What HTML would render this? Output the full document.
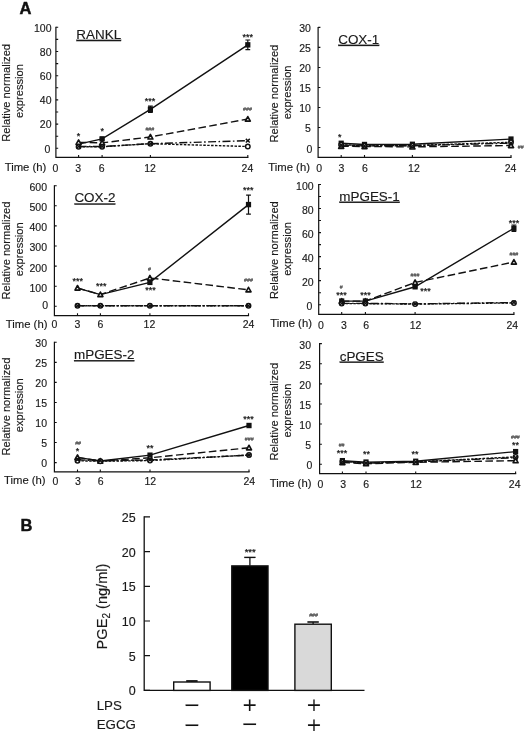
<!DOCTYPE html>
<html lang="en">
<head>
<meta charset="utf-8">
<title>Figure</title>
<style>
html,body{margin:0;padding:0;background:#fff;}
body{width:524px;height:734px;overflow:hidden;}
svg{display:block;will-change:transform;}
svg text{font-family:"Liberation Sans", sans-serif;fill:#1a1a1a;stroke:#1a1a1a;stroke-width:0.15px;}
svg text.h{fill:#4a4a4a;stroke:#4a4a4a;stroke-width:0.15px;}
svg text.a{stroke-width:0.25px;}
svg text.s{fill:#111;stroke:#fff;stroke-width:0.16px;}
svg text.b{fill:#111;stroke:#111;stroke-width:0.45px;}
</style>
</head>
<body>
<svg width="524" height="734" viewBox="0 0 524 734">
<rect width="524" height="734" fill="#fff"/>
<g><path d="M55.9 26.8V157.4H248.4" fill="none" stroke="#111" stroke-width="1.2"/>
<path d="M55.9 148.3h2.3M55.9 136.2h2.3M55.9 124.1h2.3M55.9 112h2.3M55.9 99.9h2.3M55.9 87.8h2.3M55.9 75.7h2.3M55.9 63.6h2.3M55.9 51.5h2.3M55.9 39.4h2.3M55.9 27.3h2.3M78.6 157.4v-2.3M102.1 157.4v-2.3M150.4 157.4v-2.3M247.8 157.4v-2.3" fill="none" stroke="#111" stroke-width="1.1"/>
<text x="50.3" y="152.55" text-anchor="end" font-size="10.5">0</text>
<text x="51.5" y="128.35" text-anchor="end" font-size="10.5">20</text>
<text x="51.5" y="104.15" text-anchor="end" font-size="10.5">40</text>
<text x="51.5" y="79.95" text-anchor="end" font-size="10.5">60</text>
<text x="51.5" y="55.75" text-anchor="end" font-size="10.5">80</text>
<text x="51.5" y="31.55" text-anchor="end" font-size="10.5">100</text>
<text x="55.5" y="172.1" text-anchor="middle" font-size="10.5">0</text>
<text x="78.2" y="172.1" text-anchor="middle" font-size="10.5">3</text>
<text x="101.7" y="172.1" text-anchor="middle" font-size="10.5">6</text>
<text x="150" y="172.1" text-anchor="middle" font-size="10.5">12</text>
<text x="247.4" y="172.1" text-anchor="middle" font-size="10.5">24</text>
<text x="4.7" y="170.9" font-size="11.3">Time (h)</text>
<text transform="translate(10.1 92.85) rotate(-90)" text-anchor="middle" font-size="11.15">Relative normalized</text>
<text transform="translate(23.3 91) rotate(-90)" text-anchor="middle" font-size="11.15">expression</text>
<text x="76.3" y="38.8" font-size="13.45" text-decoration="underline">RANKL</text>
<path d="M78.6 144.06L102.1 138.86L150.4 109.34L247.8 44.84" fill="none" stroke="#111" stroke-width="1.4" />
<path d="M247.8 40V49.69M245.4 40h4.8M245.4 49.69h4.8" fill="none" stroke="#111" stroke-width="1.2"/>
<path d="M150.4 106.19V112.48M148 106.19h4.8M148 112.48h4.8" fill="none" stroke="#111" stroke-width="1.2"/>
<path d="M102.1 137.89V139.83M99.7 137.89h4.8M99.7 139.83h4.8" fill="none" stroke="#111" stroke-width="1.2"/>
<rect x="99.5" y="136.16" width="5.2" height="5.4" fill="#111"/>
<rect x="147.8" y="106.64" width="5.2" height="5.4" fill="#111"/>
<rect x="245.2" y="42.14" width="5.2" height="5.4" fill="#111"/>
<path d="M78.6 142.37L102.1 142.86L150.4 136.93L247.8 119.02" fill="none" stroke="#111" stroke-width="1.4" stroke-dasharray="7.6 3.4"/>
<path d="M78.6 139.87L81.15 144.47H76.05Z" fill="#e8e8e8" stroke="#111" stroke-width="1.6" stroke-linejoin="round"/>
<path d="M102.1 140.36L104.65 144.96H99.55Z" fill="#e8e8e8" stroke="#111" stroke-width="1.6" stroke-linejoin="round"/>
<path d="M150.4 134.43L152.95 139.03H147.85Z" fill="#e8e8e8" stroke="#111" stroke-width="1.6" stroke-linejoin="round"/>
<path d="M247.8 116.52L250.35 121.12H245.25Z" fill="#e8e8e8" stroke="#111" stroke-width="1.6" stroke-linejoin="round"/>
<path d="M78.6 146.73L102.1 146.73L150.4 143.7L247.8 146.49" fill="none" stroke="#111" stroke-width="1.4" stroke-dasharray="2.5 1.4"/>
<circle cx="78.6" cy="146.73" r="2.25" fill="#fff" stroke="#111" stroke-width="1.45"/>
<circle cx="102.1" cy="146.73" r="2.25" fill="#fff" stroke="#111" stroke-width="1.45"/>
<circle cx="150.4" cy="143.7" r="2.25" fill="#fff" stroke="#111" stroke-width="1.45"/>
<circle cx="247.8" cy="146.49" r="2.25" fill="#fff" stroke="#111" stroke-width="1.45"/>
<path d="M78.6 146.49L102.1 146.49L150.4 143.7L247.8 140.68" fill="none" stroke="#111" stroke-width="1.4" stroke-dasharray="8 2.4 1.6 2.4"/>
<path d="M76.6 144.69l4 3.6m0 -3.6l-4 3.6" fill="none" stroke="#111" stroke-width="1.4"/>
<path d="M100.1 144.69l4 3.6m0 -3.6l-4 3.6" fill="none" stroke="#111" stroke-width="1.4"/>
<path d="M148.4 141.9l4 3.6m0 -3.6l-4 3.6" fill="none" stroke="#111" stroke-width="1.4"/>
<path d="M245.8 138.88l4 3.6m0 -3.6l-4 3.6" fill="none" stroke="#111" stroke-width="1.4"/>
<text class="a" x="78.4" y="138.8" text-anchor="middle" font-size="9">*</text>
<text class="a" x="102.3" y="134.3" text-anchor="middle" font-size="9">*</text>
<text class="a" x="150" y="103.7" text-anchor="middle" font-size="9">***</text>
<text class="a" x="247.8" y="39.8" text-anchor="middle" font-size="9">***</text>
<text class="h" x="149.8" y="131.05" text-anchor="middle" font-size="5.3">###</text>
<text class="h" x="247.5" y="111.25" text-anchor="middle" font-size="5.3">###</text></g>
<g><path d="M54.4 185.2V315.6H249.1" fill="none" stroke="#111" stroke-width="1.2"/>
<path d="M54.4 306.3h2.3M54.4 286.2h2.3M54.4 266.1h2.3M54.4 246h2.3M54.4 225.9h2.3M54.4 205.8h2.3M54.4 185.7h2.3M77.5 315.6v-2.3M100.4 315.6v-2.3M149.9 315.6v-2.3M248.5 315.6v-2.3" fill="none" stroke="#111" stroke-width="1.1"/>
<text x="48.1" y="309.25" text-anchor="end" font-size="10.5">0</text>
<text x="47" y="291.65" text-anchor="end" font-size="10.5">100</text>
<text x="47" y="271.55" text-anchor="end" font-size="10.5">200</text>
<text x="47" y="251.45" text-anchor="end" font-size="10.5">300</text>
<text x="47" y="231.35" text-anchor="end" font-size="10.5">400</text>
<text x="47" y="211.25" text-anchor="end" font-size="10.5">500</text>
<text x="47" y="191.15" text-anchor="end" font-size="10.5">600</text>
<text x="54.4" y="328.1" text-anchor="middle" font-size="10.5">0</text>
<text x="77.5" y="328.1" text-anchor="middle" font-size="10.5">3</text>
<text x="100.4" y="328.1" text-anchor="middle" font-size="10.5">6</text>
<text x="149.4" y="328.1" text-anchor="middle" font-size="10.5">12</text>
<text x="248.5" y="328.1" text-anchor="middle" font-size="10.5">24</text>
<text x="5.8" y="327.7" font-size="11.3">Time (h)</text>
<text transform="translate(9.8 250.5) rotate(-90)" text-anchor="middle" font-size="11.15">Relative normalized</text>
<text transform="translate(22.9 249.3) rotate(-90)" text-anchor="middle" font-size="11.15">expression</text>
<text x="74.4" y="202.4" font-size="13.45" text-decoration="underline">COX-2</text>
<path d="M77.5 288.11L100.4 294.64L149.9 282.38L248.5 204.59" fill="none" stroke="#111" stroke-width="1.4" />
<path d="M248.5 195.15V214.04M246.1 195.15h4.8M246.1 214.04h4.8" fill="none" stroke="#111" stroke-width="1.2"/>
<rect x="147.3" y="279.68" width="5.2" height="5.4" fill="#111"/>
<rect x="245.9" y="201.89" width="5.2" height="5.4" fill="#111"/>
<path d="M77.5 288.01L100.4 294.54L149.9 277.96L248.5 289.82" fill="none" stroke="#111" stroke-width="1.4" stroke-dasharray="7.6 3.4"/>
<path d="M77.5 285.51L80.05 290.11H74.95Z" fill="#e8e8e8" stroke="#111" stroke-width="1.6" stroke-linejoin="round"/>
<path d="M100.4 292.04L102.95 296.64H97.85Z" fill="#e8e8e8" stroke="#111" stroke-width="1.6" stroke-linejoin="round"/>
<path d="M149.9 275.46L152.45 280.06H147.35Z" fill="#e8e8e8" stroke="#111" stroke-width="1.6" stroke-linejoin="round"/>
<path d="M248.5 287.32L251.05 291.92H245.95Z" fill="#e8e8e8" stroke="#111" stroke-width="1.6" stroke-linejoin="round"/>
<path d="M77.5 305.7L100.4 305.7L149.9 305.7L248.5 305.7" fill="none" stroke="#111" stroke-width="1.4" stroke-dasharray="2.5 1.4"/>
<circle cx="77.5" cy="305.7" r="2.25" fill="#fff" stroke="#111" stroke-width="1.45"/>
<circle cx="100.4" cy="305.7" r="2.25" fill="#fff" stroke="#111" stroke-width="1.45"/>
<circle cx="149.9" cy="305.7" r="2.25" fill="#fff" stroke="#111" stroke-width="1.45"/>
<circle cx="248.5" cy="305.7" r="2.25" fill="#fff" stroke="#111" stroke-width="1.45"/>
<path d="M77.5 305.7L100.4 305.7L149.9 305.7L248.5 305.7" fill="none" stroke="#111" stroke-width="1.4" stroke-dasharray="8 2.4 1.6 2.4"/>
<path d="M75.5 303.9l4 3.6m0 -3.6l-4 3.6" fill="none" stroke="#111" stroke-width="1.4"/>
<path d="M98.4 303.9l4 3.6m0 -3.6l-4 3.6" fill="none" stroke="#111" stroke-width="1.4"/>
<path d="M147.9 303.9l4 3.6m0 -3.6l-4 3.6" fill="none" stroke="#111" stroke-width="1.4"/>
<path d="M246.5 303.9l4 3.6m0 -3.6l-4 3.6" fill="none" stroke="#111" stroke-width="1.4"/>
<text class="a" x="77.8" y="283.9" text-anchor="middle" font-size="9">***</text>
<text class="a" x="101.2" y="288.9" text-anchor="middle" font-size="9">***</text>
<text class="a" x="150.4" y="293.2" text-anchor="middle" font-size="9">***</text>
<text class="a" x="248.2" y="193.3" text-anchor="middle" font-size="9">***</text>
<text class="h" x="149.6" y="271.25" text-anchor="middle" font-size="5.3">#</text>
<text class="h" x="248.5" y="282.05" text-anchor="middle" font-size="5.3">###</text></g>
<g><path d="M54.4 341.8V471.9H249.6" fill="none" stroke="#111" stroke-width="1.2"/>
<path d="M54.4 462.6h2.3M54.4 442.55h2.3M54.4 422.5h2.3M54.4 402.45h2.3M54.4 382.4h2.3M54.4 362.35h2.3M54.4 342.3h2.3M77.5 471.9v-2.3M100.3 471.9v-2.3M150 471.9v-2.3M249 471.9v-2.3" fill="none" stroke="#111" stroke-width="1.1"/>
<text x="47" y="466.55" text-anchor="end" font-size="10.5">0</text>
<text x="47" y="447.3" text-anchor="end" font-size="10.5">5</text>
<text x="47" y="427.25" text-anchor="end" font-size="10.5">10</text>
<text x="47" y="407.2" text-anchor="end" font-size="10.5">15</text>
<text x="47" y="387.15" text-anchor="end" font-size="10.5">20</text>
<text x="47" y="367.1" text-anchor="end" font-size="10.5">25</text>
<text x="47" y="347.05" text-anchor="end" font-size="10.5">30</text>
<text x="55.3" y="484.6" text-anchor="middle" font-size="10.5">0</text>
<text x="77.8" y="484.6" text-anchor="middle" font-size="10.5">3</text>
<text x="100.6" y="484.6" text-anchor="middle" font-size="10.5">6</text>
<text x="150.3" y="484.6" text-anchor="middle" font-size="10.5">12</text>
<text x="249.3" y="484.6" text-anchor="middle" font-size="10.5">24</text>
<text x="4" y="484" font-size="11.3">Time (h)</text>
<text transform="translate(9.8 406.5) rotate(-90)" text-anchor="middle" font-size="11.15">Relative normalized</text>
<text transform="translate(22.9 405.3) rotate(-90)" text-anchor="middle" font-size="11.15">expression</text>
<text x="74" y="359.1" font-size="13.45" text-decoration="underline">mPGES-2</text>
<path d="M77.5 457.39L100.3 461L150 455.18L249 425.51" fill="none" stroke="#111" stroke-width="1.4" />
<rect x="147.4" y="452.48" width="5.2" height="5.4" fill="#111"/>
<rect x="246.4" y="422.81" width="5.2" height="5.4" fill="#111"/>
<path d="M77.5 457.39L100.3 461L150 457.79L249 447.76" fill="none" stroke="#111" stroke-width="1.4" stroke-dasharray="7.6 3.4"/>
<path d="M77.5 454.89L80.05 459.49H74.95Z" fill="#e8e8e8" stroke="#111" stroke-width="1.6" stroke-linejoin="round"/>
<path d="M100.3 458.5L102.85 463.1H97.75Z" fill="#e8e8e8" stroke="#111" stroke-width="1.6" stroke-linejoin="round"/>
<path d="M150 455.29L152.55 459.89H147.45Z" fill="#e8e8e8" stroke="#111" stroke-width="1.6" stroke-linejoin="round"/>
<path d="M249 445.26L251.55 449.86H246.45Z" fill="#e8e8e8" stroke="#111" stroke-width="1.6" stroke-linejoin="round"/>
<path d="M77.5 460.8L100.3 461.2L150 460.6L249 454.98" fill="none" stroke="#111" stroke-width="1.4" stroke-dasharray="2.5 1.4"/>
<circle cx="77.5" cy="460.8" r="2.25" fill="#fff" stroke="#111" stroke-width="1.45"/>
<circle cx="100.3" cy="461.2" r="2.25" fill="#fff" stroke="#111" stroke-width="1.45"/>
<circle cx="150" cy="460.6" r="2.25" fill="#fff" stroke="#111" stroke-width="1.45"/>
<circle cx="249" cy="454.98" r="2.25" fill="#fff" stroke="#111" stroke-width="1.45"/>
<path d="M77.5 459.79L100.3 460.8L150 459.99L249 455.18" fill="none" stroke="#111" stroke-width="1.4" stroke-dasharray="8 2.4 1.6 2.4"/>
<path d="M75.5 457.99l4 3.6m0 -3.6l-4 3.6" fill="none" stroke="#111" stroke-width="1.4"/>
<path d="M98.3 459l4 3.6m0 -3.6l-4 3.6" fill="none" stroke="#111" stroke-width="1.4"/>
<path d="M148 458.19l4 3.6m0 -3.6l-4 3.6" fill="none" stroke="#111" stroke-width="1.4"/>
<path d="M247 453.38l4 3.6m0 -3.6l-4 3.6" fill="none" stroke="#111" stroke-width="1.4"/>
<text class="a" x="77.5" y="454" text-anchor="middle" font-size="9">*</text>
<text class="a" x="150" y="450.9" text-anchor="middle" font-size="9">**</text>
<text class="a" x="248.6" y="421.8" text-anchor="middle" font-size="9">***</text>
<text class="h" x="78.1" y="445.25" text-anchor="middle" font-size="5.3">##</text>
<text class="h" x="249.2" y="440.75" text-anchor="middle" font-size="5.3">###</text></g>
<g><path d="M318.1 26.9V157.3H511.6" fill="none" stroke="#111" stroke-width="1.2"/>
<path d="M318.1 147.5h2.3M318.1 127.48h2.3M318.1 107.47h2.3M318.1 87.45h2.3M318.1 67.43h2.3M318.1 47.42h2.3M318.1 27.4h2.3M341.2 157.3v-2.3M364.5 157.3v-2.3M412.4 157.3v-2.3M511 157.3v-2.3" fill="none" stroke="#111" stroke-width="1.1"/>
<text x="312.3" y="152.75" text-anchor="end" font-size="10.5">0</text>
<text x="310.9" y="132.43" text-anchor="end" font-size="10.5">5</text>
<text x="310.9" y="112.42" text-anchor="end" font-size="10.5">10</text>
<text x="310.9" y="92.4" text-anchor="end" font-size="10.5">15</text>
<text x="310.9" y="72.38" text-anchor="end" font-size="10.5">20</text>
<text x="310.9" y="52.37" text-anchor="end" font-size="10.5">25</text>
<text x="310.9" y="32.35" text-anchor="end" font-size="10.5">30</text>
<text x="319.1" y="171.6" text-anchor="middle" font-size="10.5">0</text>
<text x="341.5" y="171.6" text-anchor="middle" font-size="10.5">3</text>
<text x="364.8" y="171.6" text-anchor="middle" font-size="10.5">6</text>
<text x="413.9" y="171.6" text-anchor="middle" font-size="10.5">12</text>
<text x="510.6" y="171.6" text-anchor="middle" font-size="10.5">24</text>
<text x="268.3" y="170.6" font-size="11.3">Time (h)</text>
<text transform="translate(278 93.6) rotate(-90)" text-anchor="middle" font-size="11.15">Relative normalized</text>
<text transform="translate(291.1 92.4) rotate(-90)" text-anchor="middle" font-size="11.15">expression</text>
<text x="338.2" y="43.7" font-size="13.45" text-decoration="underline">COX-1</text>
<path d="M341.2 143.3L364.5 144.5L412.4 144.3L511 139.09" fill="none" stroke="#111" stroke-width="1.4" />
<rect x="338.6" y="140.6" width="5.2" height="5.4" fill="#111"/>
<rect x="361.9" y="141.8" width="5.2" height="5.4" fill="#111"/>
<rect x="409.8" y="141.6" width="5.2" height="5.4" fill="#111"/>
<rect x="508.4" y="136.39" width="5.2" height="5.4" fill="#111"/>
<path d="M341.2 146.3L364.5 146.5L412.4 146.9L511 145.5" fill="none" stroke="#111" stroke-width="1.4" stroke-dasharray="7.6 3.4"/>
<path d="M341.2 143.8L343.75 148.4H338.65Z" fill="#e8e8e8" stroke="#111" stroke-width="1.6" stroke-linejoin="round"/>
<path d="M364.5 144L367.05 148.6H361.95Z" fill="#e8e8e8" stroke="#111" stroke-width="1.6" stroke-linejoin="round"/>
<path d="M412.4 144.4L414.95 149H409.85Z" fill="#e8e8e8" stroke="#111" stroke-width="1.6" stroke-linejoin="round"/>
<path d="M511 143L513.55 147.6H508.45Z" fill="#e8e8e8" stroke="#111" stroke-width="1.6" stroke-linejoin="round"/>
<path d="M341.2 144.7L364.5 145.7L412.4 145.5L511 142.3" fill="none" stroke="#111" stroke-width="1.4" stroke-dasharray="2.5 1.4"/>
<circle cx="341.2" cy="144.7" r="2.25" fill="#fff" stroke="#111" stroke-width="1.45"/>
<circle cx="364.5" cy="145.7" r="2.25" fill="#fff" stroke="#111" stroke-width="1.45"/>
<circle cx="412.4" cy="145.5" r="2.25" fill="#fff" stroke="#111" stroke-width="1.45"/>
<circle cx="511" cy="142.3" r="2.25" fill="#fff" stroke="#111" stroke-width="1.45"/>
<path d="M341.2 145.1L364.5 145.9L412.4 145.7L511 143.1" fill="none" stroke="#111" stroke-width="1.4" stroke-dasharray="8 2.4 1.6 2.4"/>
<path d="M339.2 143.3l4 3.6m0 -3.6l-4 3.6" fill="none" stroke="#111" stroke-width="1.4"/>
<path d="M362.5 144.1l4 3.6m0 -3.6l-4 3.6" fill="none" stroke="#111" stroke-width="1.4"/>
<path d="M410.4 143.9l4 3.6m0 -3.6l-4 3.6" fill="none" stroke="#111" stroke-width="1.4"/>
<path d="M509 141.3l4 3.6m0 -3.6l-4 3.6" fill="none" stroke="#111" stroke-width="1.4"/>
<text class="a" x="339.8" y="140.3" text-anchor="middle" font-size="9">*</text>
<text class="h" x="517.8" y="148.65" text-anchor="start" font-size="5.3">##</text></g>
<g><path d="M318.7 184V314.3H514.5" fill="none" stroke="#111" stroke-width="1.2"/>
<path d="M318.7 304.7h2.3M318.7 292.68h2.3M318.7 280.66h2.3M318.7 268.64h2.3M318.7 256.62h2.3M318.7 244.6h2.3M318.7 232.58h2.3M318.7 220.56h2.3M318.7 208.54h2.3M318.7 196.52h2.3M318.7 184.5h2.3M341.7 314.3v-2.3M365.4 314.3v-2.3M415.1 314.3v-2.3M513.9 314.3v-2.3" fill="none" stroke="#111" stroke-width="1.1"/>
<text x="312.4" y="310.25" text-anchor="end" font-size="10.5">0</text>
<text x="313.6" y="285.91" text-anchor="end" font-size="10.5">20</text>
<text x="313.6" y="261.87" text-anchor="end" font-size="10.5">40</text>
<text x="313.6" y="237.83" text-anchor="end" font-size="10.5">60</text>
<text x="313.6" y="213.79" text-anchor="end" font-size="10.5">80</text>
<text x="313.6" y="189.75" text-anchor="end" font-size="10.5">100</text>
<text x="320.8" y="328.5" text-anchor="middle" font-size="10.5">0</text>
<text x="343.8" y="328.5" text-anchor="middle" font-size="10.5">3</text>
<text x="366.1" y="328.5" text-anchor="middle" font-size="10.5">6</text>
<text x="415.5" y="328.5" text-anchor="middle" font-size="10.5">12</text>
<text x="512.3" y="328.5" text-anchor="middle" font-size="10.5">24</text>
<text x="270.3" y="327.3" font-size="11.3">Time (h)</text>
<text transform="translate(277.9 250.1) rotate(-90)" text-anchor="middle" font-size="11.15">Relative normalized</text>
<text transform="translate(291.1 248.9) rotate(-90)" text-anchor="middle" font-size="11.15">expression</text>
<text x="339.3" y="200.6" font-size="13.45" text-decoration="underline">mPGES-1</text>
<path d="M341.7 301.09L365.4 301.09L415.1 286.79L513.9 228.25" fill="none" stroke="#111" stroke-width="1.4" />
<path d="M513.9 225.01V231.5M511.5 225.01h4.8M511.5 231.5h4.8" fill="none" stroke="#111" stroke-width="1.2"/>
<path d="M415.1 285.83V287.75M412.7 285.83h4.8M412.7 287.75h4.8" fill="none" stroke="#111" stroke-width="1.2"/>
<rect x="339.1" y="298.39" width="5.2" height="5.4" fill="#111"/>
<rect x="362.8" y="298.39" width="5.2" height="5.4" fill="#111"/>
<rect x="412.5" y="284.09" width="5.2" height="5.4" fill="#111"/>
<rect x="511.3" y="225.55" width="5.2" height="5.4" fill="#111"/>
<path d="M341.7 301.09L365.4 301.09L415.1 282.46L513.9 262.03" fill="none" stroke="#111" stroke-width="1.4" stroke-dasharray="7.6 3.4"/>
<path d="M341.7 298.59L344.25 303.19H339.15Z" fill="#e8e8e8" stroke="#111" stroke-width="1.6" stroke-linejoin="round"/>
<path d="M365.4 298.59L367.95 303.19H362.85Z" fill="#e8e8e8" stroke="#111" stroke-width="1.6" stroke-linejoin="round"/>
<path d="M415.1 279.96L417.65 284.56H412.55Z" fill="#e8e8e8" stroke="#111" stroke-width="1.6" stroke-linejoin="round"/>
<path d="M513.9 259.53L516.45 264.13H511.35Z" fill="#e8e8e8" stroke="#111" stroke-width="1.6" stroke-linejoin="round"/>
<path d="M341.7 303.62L365.4 303.62L415.1 304.1L513.9 302.9" fill="none" stroke="#111" stroke-width="1.4" stroke-dasharray="2.5 1.4"/>
<circle cx="341.7" cy="303.62" r="2.25" fill="#fff" stroke="#111" stroke-width="1.45"/>
<circle cx="365.4" cy="303.62" r="2.25" fill="#fff" stroke="#111" stroke-width="1.45"/>
<circle cx="415.1" cy="304.1" r="2.25" fill="#fff" stroke="#111" stroke-width="1.45"/>
<circle cx="513.9" cy="302.9" r="2.25" fill="#fff" stroke="#111" stroke-width="1.45"/>
<path d="M341.7 303.38L365.4 303.38L415.1 303.86L513.9 302.54" fill="none" stroke="#111" stroke-width="1.4" stroke-dasharray="8 2.4 1.6 2.4"/>
<path d="M339.7 301.58l4 3.6m0 -3.6l-4 3.6" fill="none" stroke="#111" stroke-width="1.4"/>
<path d="M363.4 301.58l4 3.6m0 -3.6l-4 3.6" fill="none" stroke="#111" stroke-width="1.4"/>
<path d="M413.1 302.06l4 3.6m0 -3.6l-4 3.6" fill="none" stroke="#111" stroke-width="1.4"/>
<path d="M511.9 300.74l4 3.6m0 -3.6l-4 3.6" fill="none" stroke="#111" stroke-width="1.4"/>
<text class="a" x="341.6" y="297.7" text-anchor="middle" font-size="9">***</text>
<text class="a" x="365.6" y="297.7" text-anchor="middle" font-size="9">***</text>
<text class="a" x="425.5" y="294.3" text-anchor="middle" font-size="9">***</text>
<text class="a" x="513.9" y="225.5" text-anchor="middle" font-size="9">***</text>
<text class="h" x="341.2" y="288.75" text-anchor="middle" font-size="5.3">#</text>
<text class="h" x="415" y="276.55" text-anchor="middle" font-size="5.3">###</text>
<text class="h" x="513.9" y="255.85" text-anchor="middle" font-size="5.3">###</text></g>
<g><path d="M319.6 343.1V473.7H516.2" fill="none" stroke="#111" stroke-width="1.2"/>
<path d="M319.6 464.3h2.3M319.6 444.18h2.3M319.6 424.07h2.3M319.6 403.95h2.3M319.6 383.83h2.3M319.6 363.72h2.3M319.6 343.6h2.3M342.4 473.7v-2.3M366 473.7v-2.3M415.7 473.7v-2.3M515.6 473.7v-2.3" fill="none" stroke="#111" stroke-width="1.1"/>
<text x="312.4" y="468.85" text-anchor="end" font-size="10.5">0</text>
<text x="311" y="449.13" text-anchor="end" font-size="10.5">5</text>
<text x="311" y="429.02" text-anchor="end" font-size="10.5">10</text>
<text x="311" y="408.9" text-anchor="end" font-size="10.5">15</text>
<text x="311" y="388.78" text-anchor="end" font-size="10.5">20</text>
<text x="311" y="368.67" text-anchor="end" font-size="10.5">25</text>
<text x="311" y="348.55" text-anchor="end" font-size="10.5">30</text>
<text x="320.4" y="487.9" text-anchor="middle" font-size="10.5">0</text>
<text x="343.2" y="487.9" text-anchor="middle" font-size="10.5">3</text>
<text x="366.1" y="487.9" text-anchor="middle" font-size="10.5">6</text>
<text x="416" y="487.9" text-anchor="middle" font-size="10.5">12</text>
<text x="514.7" y="487.9" text-anchor="middle" font-size="10.5">24</text>
<text x="269.8" y="486.8" font-size="11.3">Time (h)</text>
<text transform="translate(277.9 411.7) rotate(-90)" text-anchor="middle" font-size="11.15">Relative normalized</text>
<text transform="translate(291.1 410.5) rotate(-90)" text-anchor="middle" font-size="11.15">expression</text>
<text x="339.7" y="360.5" font-size="13.45" text-decoration="underline">cPGES</text>
<path d="M342.4 460.68L366 462.09L415.7 461.28L515.6 451.63" fill="none" stroke="#111" stroke-width="1.4" />
<rect x="339.8" y="457.98" width="5.2" height="5.4" fill="#111"/>
<rect x="363.4" y="459.39" width="5.2" height="5.4" fill="#111"/>
<rect x="413.1" y="458.58" width="5.2" height="5.4" fill="#111"/>
<rect x="513" y="448.93" width="5.2" height="5.4" fill="#111"/>
<path d="M342.4 462.49L366 463.7L415.7 462.29L515.6 460.68" fill="none" stroke="#111" stroke-width="1.4" stroke-dasharray="7.6 3.4"/>
<path d="M342.4 459.99L344.95 464.59H339.85Z" fill="#e8e8e8" stroke="#111" stroke-width="1.6" stroke-linejoin="round"/>
<path d="M366 461.2L368.55 465.8H363.45Z" fill="#e8e8e8" stroke="#111" stroke-width="1.6" stroke-linejoin="round"/>
<path d="M415.7 459.79L418.25 464.39H413.15Z" fill="#e8e8e8" stroke="#111" stroke-width="1.6" stroke-linejoin="round"/>
<path d="M515.6 458.18L518.15 462.78H513.05Z" fill="#e8e8e8" stroke="#111" stroke-width="1.6" stroke-linejoin="round"/>
<path d="M342.4 461.48L366 462.89L415.7 461.89L515.6 456.86" fill="none" stroke="#111" stroke-width="1.4" stroke-dasharray="2.5 1.4"/>
<circle cx="342.4" cy="461.48" r="2.25" fill="#fff" stroke="#111" stroke-width="1.45"/>
<circle cx="366" cy="462.89" r="2.25" fill="#fff" stroke="#111" stroke-width="1.45"/>
<circle cx="415.7" cy="461.89" r="2.25" fill="#fff" stroke="#111" stroke-width="1.45"/>
<circle cx="515.6" cy="456.86" r="2.25" fill="#fff" stroke="#111" stroke-width="1.45"/>
<path d="M342.4 461.68L366 463.09L415.7 461.89L515.6 457.66" fill="none" stroke="#111" stroke-width="1.4" stroke-dasharray="8 2.4 1.6 2.4"/>
<path d="M340.4 459.88l4 3.6m0 -3.6l-4 3.6" fill="none" stroke="#111" stroke-width="1.4"/>
<path d="M364 461.29l4 3.6m0 -3.6l-4 3.6" fill="none" stroke="#111" stroke-width="1.4"/>
<path d="M413.7 460.09l4 3.6m0 -3.6l-4 3.6" fill="none" stroke="#111" stroke-width="1.4"/>
<path d="M513.6 455.86l4 3.6m0 -3.6l-4 3.6" fill="none" stroke="#111" stroke-width="1.4"/>
<text class="a" x="342.1" y="455.8" text-anchor="middle" font-size="9">***</text>
<text class="a" x="366.4" y="456.9" text-anchor="middle" font-size="9">**</text>
<text class="a" x="415" y="456.7" text-anchor="middle" font-size="9">**</text>
<text class="a" x="515.4" y="447.7" text-anchor="middle" font-size="9">**</text>
<text class="h" x="341.6" y="447.25" text-anchor="middle" font-size="5.3">##</text>
<text class="h" x="515.4" y="439.05" text-anchor="middle" font-size="5.3">###</text></g>
<text class="b" x="19.4" y="14.1" font-size="16.5" font-weight="bold">A</text>
<text class="b" x="20.5" y="530.8" font-size="16.5" font-weight="bold">B</text>
<g><path d="M144.2 516.3V690.4H364.5" fill="none" stroke="#111" stroke-width="1.3"/>
<path d="M144.2 690.4h5.8M144.2 655.7h5.8M144.2 621h5.8M144.2 586.3h5.8M144.2 551.6h5.8M144.2 516.9h5.8" fill="none" stroke="#111" stroke-width="1.2"/>
<text x="135.7" y="695.3" text-anchor="end" font-size="12.5">0</text>
<text x="135.7" y="660.6" text-anchor="end" font-size="12.5">5</text>
<text x="135.7" y="625.9" text-anchor="end" font-size="12.5">10</text>
<text x="135.7" y="591.2" text-anchor="end" font-size="12.5">15</text>
<text x="135.7" y="556.5" text-anchor="end" font-size="12.5">20</text>
<text x="135.7" y="521.8" text-anchor="end" font-size="12.5">25</text>
<rect x="173.7" y="682" width="36.4" height="8.4" fill="#fff" stroke="#111" stroke-width="1.4"/>
<path d="M191.9 681.8V681" fill="none" stroke="#111" stroke-width="1.3"/>
<path d="M186.2 681h11.4" fill="none" stroke="#111" stroke-width="1.8"/>
<rect x="231.8" y="565.9" width="36.2" height="124.5" fill="#000" stroke="#111" stroke-width="1.4"/>
<path d="M249.9 565.7V557.4" fill="none" stroke="#111" stroke-width="1.3"/>
<path d="M244.2 557.4h11.4" fill="none" stroke="#111" stroke-width="1.4"/>
<rect x="294.9" y="624.2" width="36.4" height="66.2" fill="#d9d9d9" stroke="#111" stroke-width="1.4"/>
<path d="M313.1 624V622" fill="none" stroke="#111" stroke-width="1.3"/>
<path d="M307.4 622h11.4" fill="none" stroke="#111" stroke-width="1.6"/>
<text class="a" x="250.2" y="554.6" text-anchor="middle" font-size="9.5">***</text>
<text class="h" x="313.6" y="617.4" text-anchor="middle" font-size="5.3">###</text>
<text transform="translate(107.2 606.5) rotate(-90)" text-anchor="middle" font-size="14.6">PGE<tspan font-size="10" dy="3.2">2</tspan><tspan dy="-3.2"> (ng/ml)</tspan></text>
<text x="96.7" y="710" font-size="13.3">LPS</text>
<text x="96.7" y="729.4" font-size="13.3">EGCG</text>
<text class="s" x="192" y="714.11" text-anchor="middle" font-size="26.5">−</text>
<text class="s" x="249.7" y="713" text-anchor="middle" font-size="24.8">+</text>
<text class="s" x="314.1" y="713" text-anchor="middle" font-size="24.8">+</text>
<text class="s" x="192" y="733.51" text-anchor="middle" font-size="26.5">−</text>
<text class="s" x="249.7" y="733.41" text-anchor="middle" font-size="26.5">−</text>
<text class="s" x="314.1" y="733" text-anchor="middle" font-size="24.8">+</text></g>
</svg>
</body>
</html>
